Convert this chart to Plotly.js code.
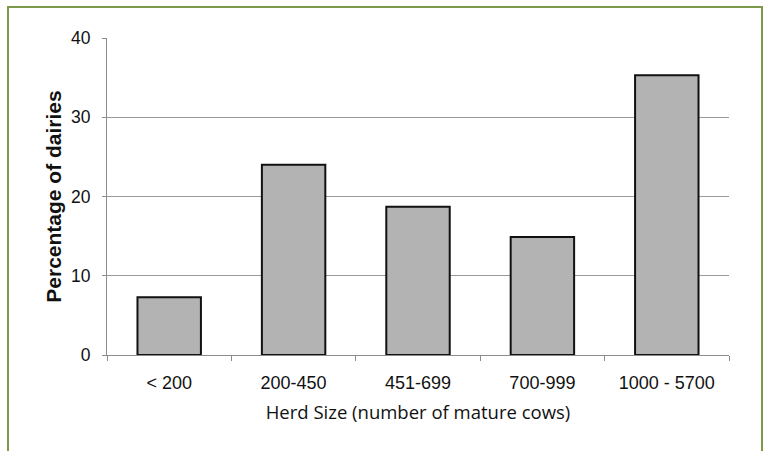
<!DOCTYPE html>
<html>
<head>
<meta charset="utf-8">
<script src="https://cdn.plot.ly/plotly-3.0.1.min.js"></script>
<style>
  html, body { margin: 0; padding: 0; background: #fff; }
  #wrap { position: relative; width: 770px; height: 451px; overflow: hidden; }
  #chart { width: 770px; height: 451px; }
  #frame { position: absolute; left: 7px; top: 6px; width: 756px; height: 470px;
           border: 2px solid #7d9a4b; pointer-events: none; box-sizing: border-box; }
</style>
</head>
<body>
<div id="wrap">
  <div id="chart"></div>
  <div id="frame"></div>
</div>
<script>
const categories = ["< 200", "200-450", "451-699", "700-999", "1000 - 5700"];
const percentages = [7.3, 24.0, 18.7, 14.9, 35.3];
const yTicks = [0, 10, 20, 30, 40];

const trace = {
  type: "bar",
  x: categories,
  y: percentages,
  marker: { color: "#b3b3b3", line: { color: "#111111", width: 2 } },
  hoverinfo: "x+y"
};

const layout = {
  width: 770,
  height: 451,
  margin: { l: 107, r: 41, t: 38, b: 96 },
  paper_bgcolor: "#ffffff",
  plot_bgcolor: "#ffffff",
  bargap: 0.49,
  showlegend: false,
  font: { family: "Liberation Sans, Arial, sans-serif", color: "#111111" },
  xaxis: {
    type: "category",
    showgrid: false,
    showline: true,
    linecolor: "#8c8c8c",
    linewidth: 1,
    ticks: "outside",
    tickson: "boundaries",
    ticklen: 5,
    tickcolor: "#8c8c8c",
    ticklabelstandoff: 11,
    tickfont: { size: 18, family: "Liberation Sans, Arial, sans-serif", color: "#111" },
    title: { text: "Herd Size (number of mature cows)", standoff: 14,
             font: { size: 18.5, family: "Open Sans, sans-serif", color: "#111" } },
    zeroline: false
  },
  yaxis: {
    range: [0, 40],
    tickvals: yTicks,
    ticktext: yTicks.map(String),
    showgrid: true,
    gridcolor: "#9a9a9a",
    gridwidth: 1,
    showline: true,
    linecolor: "#8c8c8c",
    linewidth: 1,
    ticks: "outside",
    ticklen: 4,
    tickcolor: "#8c8c8c",
    ticklabelstandoff: 8,
    zeroline: false,
    tickfont: { size: 17.5, family: "Liberation Sans, Arial, sans-serif", color: "#111" },
    title: { text: "<b>Percentage of dairies</b>", standoff: 3,
             font: { size: 21, family: "Liberation Sans, Arial, sans-serif", color: "#111" } }
  }
};

Plotly.newPlot("chart", [trace], layout, { displayModeBar: false, staticPlot: true });
</script>
</body>
</html>
